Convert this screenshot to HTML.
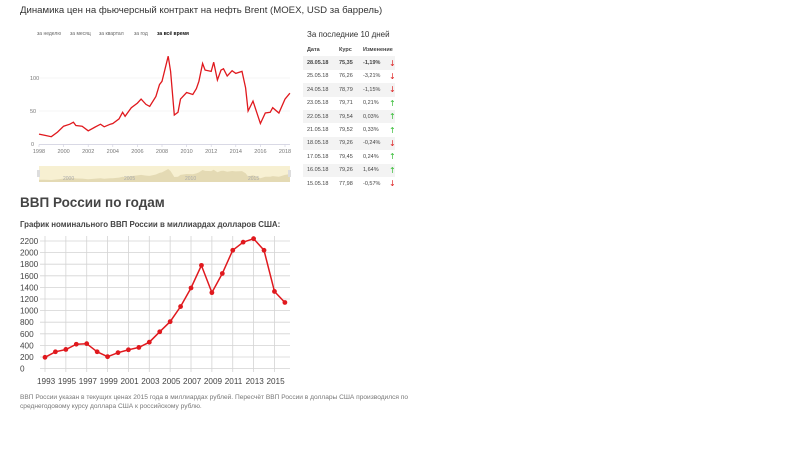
<!DOCTYPE html>
<html><head><meta charset="utf-8"><style>
body{margin:0;width:800px;height:450px;background:#fff;font-family:"Liberation Sans",sans-serif;overflow:hidden;position:relative}
.a{position:absolute;white-space:nowrap}
table{position:absolute;left:303px;top:43px;border-collapse:collapse;font-size:5.5px;color:#444;width:92px;table-layout:fixed}
td{height:13.4px;padding:0 0 0 4px}
tr.g td{background:#f3f3f3}
.up{color:#3b3;font-size:8px;font-family:"DejaVu Sans",sans-serif}.dn{color:#d22;font-size:8px;font-family:"DejaVu Sans",sans-serif}
</style></head><body>
<div class="a" style="left:20px;top:5px;font-size:9.6px;color:#333">Динамика цен на фьючерсный контракт на нефть Brent (MOEX, USD за баррель)</div>
<div class="a" style="left:37px;top:31px;font-size:5px;color:#666">за неделю</div>
<div class="a" style="left:70px;top:31px;font-size:5px;color:#666">за месяц</div>
<div class="a" style="left:99px;top:31px;font-size:5px;color:#666">за квартал</div>
<div class="a" style="left:134px;top:31px;font-size:5px;color:#666">за год</div>
<div class="a" style="left:157px;top:31px;font-size:5px;color:#111;font-weight:bold">за всё время</div>
<div class="a" style="left:307px;top:30px;font-size:8px;color:#333">За последние 10 дней</div>
<table>
<colgroup><col style="width:32px"><col style="width:24px"><col style="width:26px"><col style="width:10px"></colgroup>
<tr><td style="font-weight:bold">Дата</td><td style="font-weight:bold">Курс</td><td style="font-weight:bold">Изменение</td><td style="padding:0"></td></tr>
<tr class="g"><td><b>28.05.18</b></td><td><b>75,35</b></td><td><b>-1,19%</b></td><td class="dn">↓</td></tr>
<tr><td>25.05.18</td><td>76,26</td><td>-3,21%</td><td class="dn">↓</td></tr>
<tr class="g"><td>24.05.18</td><td>78,79</td><td>-1,15%</td><td class="dn">↓</td></tr>
<tr><td>23.05.18</td><td>79,71</td><td>0,21%</td><td class="up">↑</td></tr>
<tr class="g"><td>22.05.18</td><td>79,54</td><td>0,03%</td><td class="up">↑</td></tr>
<tr><td>21.05.18</td><td>79,52</td><td>0,33%</td><td class="up">↑</td></tr>
<tr class="g"><td>18.05.18</td><td>79,26</td><td>-0,24%</td><td class="dn">↓</td></tr>
<tr><td>17.05.18</td><td>79,45</td><td>0,24%</td><td class="up">↑</td></tr>
<tr class="g"><td>16.05.18</td><td>79,26</td><td>1,64%</td><td class="up">↑</td></tr>
<tr><td>15.05.18</td><td>77,98</td><td>-0,57%</td><td class="dn">↓</td></tr>
</table>
<svg id="s" class="a" style="left:0;top:0" width="800" height="450" font-family="Liberation Sans, sans-serif">
<g stroke="#eee" stroke-width="0.6"><line x1="39" x2="290" y1="78" y2="78"/><line x1="39" x2="290" y1="111" y2="111"/></g>
<line x1="39" x2="290" y1="144.5" y2="144.5" stroke="#ccd" stroke-width="0.7"/>
<g font-size="5.5" fill="#777"><text x="30" y="80">100</text><text x="30" y="113">50</text><text x="31" y="146">0</text></g>
<g id="bx" font-size="5.5" fill="#777" text-anchor="middle"></g>
<rect x="39" y="166" width="251" height="16" fill="#f7f0d2"/>
<polygon id="nav" fill="#e4dab4"/>
<rect x="37" y="170" width="3" height="7" fill="#ddd"/><rect x="288" y="170" width="3" height="7" fill="#ddd"/>
<g font-size="5" fill="#aaa"><text x="63" y="180">2000</text><text x="124" y="180">2005</text><text x="185" y="180">2010</text><text x="248" y="180">2015</text></g>
<polyline id="brent" fill="none" stroke="#e0191e" stroke-width="1.3"/>
<text x="20" y="207" font-size="13.5" font-weight="bold" fill="#444">ВВП России по годам</text>
<text x="20" y="227" font-size="7.9" font-weight="bold" fill="#444">График номинального ВВП России в миллиардах долларов США:</text>
<g id="gg" stroke="#d4d4d4" stroke-width="0.8"></g>
<g id="gl" font-size="8.2" fill="#444"></g>
<polyline id="gdp" fill="none" stroke="#e0191e" stroke-width="1.5"/>
<g id="gd" fill="#e0191e"></g>
<text x="20" y="399" font-size="6.6" fill="#777">ВВП России указан в текущих ценах 2015 года в миллиардах рублей. Пересчёт ВВП России в доллары США производился по</text>
<text x="20" y="408" font-size="6.6" fill="#777">среднегодовому курсу доллара США к российскому рублю.</text>
</svg>
<script>
var ns="http://www.w3.org/2000/svg";
function el(p,t,a,tx){var e=document.createElementNS(ns,t);for(var k in a)e.setAttribute(k,a[k]);if(tx)e.textContent=tx;document.getElementById(p).appendChild(e);}
for(var y=1998;y<=2018;y+=2){var x=39+(y-1998)*12.3;el("bx","text",{x:x,y:153},String(y));el("s","line",{x1:x,x2:x,y1:144.5,y2:147,stroke:"#ccd","stroke-width":0.6});}
var b=[1998,15,1998.5,13,1999,11,1999.5,18,2000,27,2000.5,30,2000.8,33,2001,28,2001.5,27,2002,20,2002.5,25,2003,30,2003.3,26,2003.8,30,2004,31,2004.5,38,2004.8,48,2005,42,2005.5,55,2006,62,2006.3,68,2006.7,60,2007,57,2007.5,72,2007.8,90,2008,95,2008.5,133,2008.7,110,2009,44,2009.3,48,2009.5,68,2010,78,2010.5,75,2010.8,84,2011,95,2011.3,122,2011.5,112,2012,110,2012.2,124,2012.5,97,2012.8,112,2013,114,2013.3,103,2013.7,111,2014,107,2014.5,110,2014.8,85,2015,50,2015.4,65,2015.7,48,2016,31,2016.4,47,2016.8,48,2017,55,2017.5,47,2018,68,2018.4,77];
var p=[],n=["39,182"];
for(var i=0;i<b.length;i+=2){var x=39+(b[i]-1998)*12.3;p.push(x.toFixed(1)+","+(144-0.66*b[i+1]).toFixed(1));n.push(x.toFixed(1)+","+(181-0.09*b[i+1]).toFixed(1));}
n.push("290,182");
document.getElementById("brent").setAttribute("points",p.join(" "));
document.getElementById("nav").setAttribute("points",n.join(" "));
for(var v=0;v<=2200;v+=200){var yy=368.6-v*0.058;el("gg","line",{x1:40,x2:290,y1:yy,y2:yy});el("gl","text",{x:20,y:yy+3},String(v));}
for(var y=1993;y<=2015;y+=2){var x=45+(y-1993)*10.43;el("gg","line",{x1:x,x2:x,y1:236,y2:372});el("gl","text",{x:x-8,y:384},String(y));}
var g=[195,290,330,420,430,290,205,275,325,365,455,635,810,1070,1390,1780,1310,1640,2040,2180,2240,2040,1330,1140],q=[];
for(var i=0;i<g.length;i++){var x=45+i*10.43,yy=368.6-g[i]*0.058;q.push(x.toFixed(1)+","+yy.toFixed(1));el("gd","circle",{cx:x,cy:yy,r:2.4});}
document.getElementById("gdp").setAttribute("points",q.join(" "));
</script>
</body></html>
